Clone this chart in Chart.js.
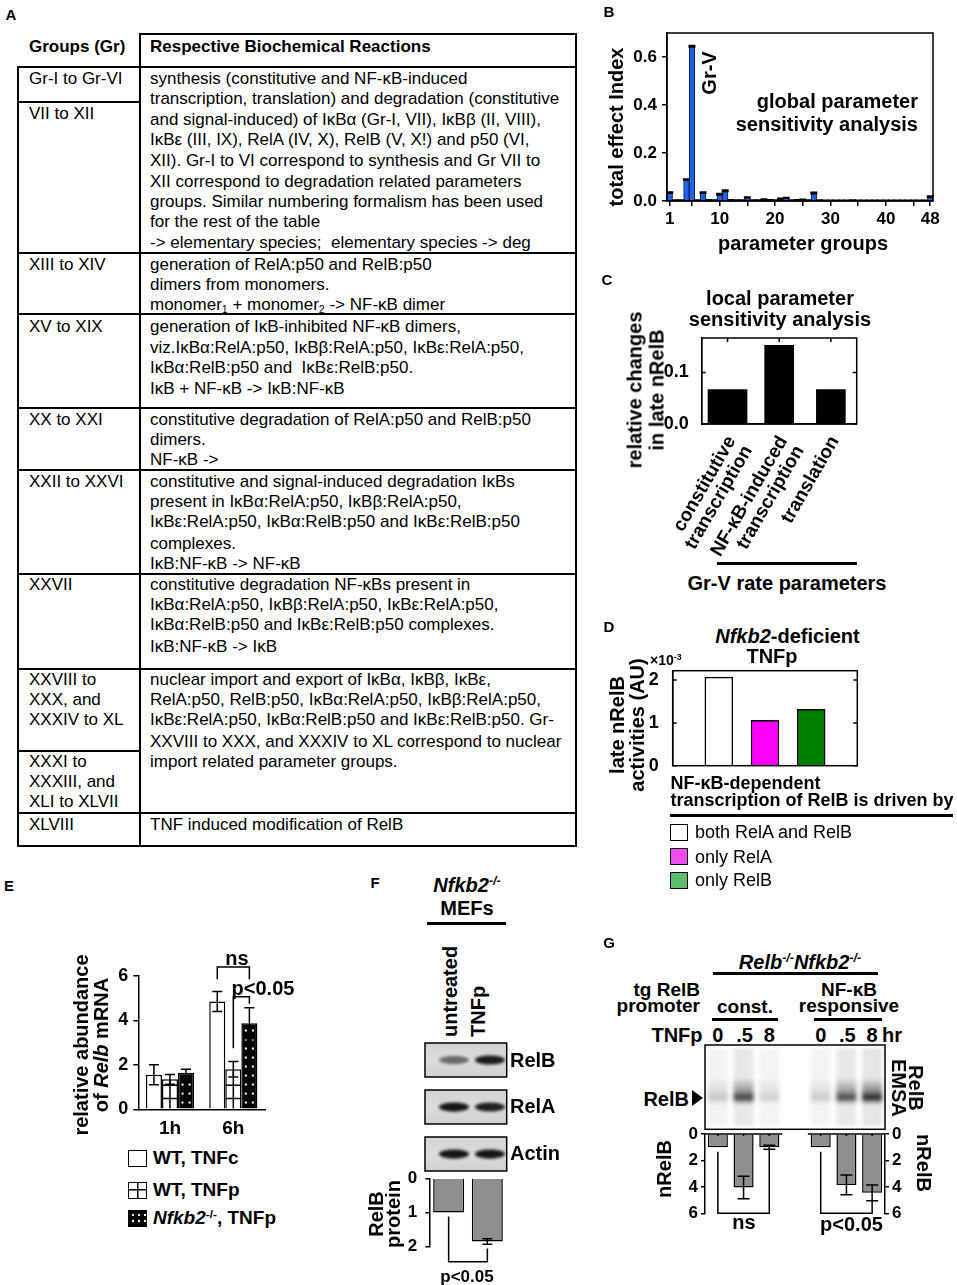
<!DOCTYPE html>
<html><head><meta charset="utf-8">
<script src="https://cdn.jsdelivr.net/npm/chart.js@4.4.1/dist/chart.umd.min.js"></script>
<style>
html,body{margin:0;padding:0;background:#fff;}
body{width:957px;height:1285px;position:relative;overflow:hidden;font-family:'Liberation Sans',Arial,Helvetica,sans-serif;color:#000;}
.t{position:absolute;white-space:nowrap;transform-origin:0 0;line-height:1.15;text-align:center;}
.ln{position:absolute;background:#000;}
.sw{position:absolute;box-sizing:border-box;border:1.5px solid #000;}
canvas{position:absolute;}
sup{font-size:0.62em;vertical-align:0.55em;line-height:0;}
sub{font-size:0.62em;vertical-align:-0.3em;line-height:0;}
</style></head><body>
<script>
// ---------------- DATA ----------------
// Panel B: global parameter sensitivity analysis
const paramGroups = [1,2,3,4,5,6,7,8,9,10,11,12,13,14,15,16,17,18,19,20,21,22,23,24,25,26,27,28,29,30,31,32,33,34,35,36,37,38,39,40,41,42,43,44,45,46,47,48];
const totalEffectIndex = [0.035,0.002,0.002,0.090,0.645,0.002,0.035,0.003,0.002,0.028,0.043,0.003,0.002,0.002,0.015,0.002,0.002,0.006,0.003,0.002,0.009,0.013,0.002,0.003,0.005,0.002,0.033,0.002,0.001,0.001,0.001,0.001,0.001,0.002,0.001,0.001,0.001,0.001,0.001,0.001,0.001,0.001,0.001,0.001,0.001,0.001,0.001,0.018];
const totalEffectErr = [0.003,0.002,0.002,0.002,0.003,0.002,0.003,0.002,0.002,0.003,0.003,0.002,0.002,0.002,0.002,0.002,0.002,0.002,0.002,0.002,0.002,0.002,0.002,0.002,0.002,0.002,0.003,0.002,0.002,0.002,0.002,0.002,0.002,0.002,0.002,0.002,0.002,0.002,0.002,0.002,0.002,0.002,0.002,0.002,0.002,0.002,0.002,0.003];
const bTickLabels = [1,10,20,30,40,48];
const bTickMarks = [1,5,10,15,20,25,30,35,40,45,48];
const bYTicks = [0,0.2,0.4,0.6];

// Panel C: local parameter sensitivity analysis (Gr-V rate parameters)
const grVParams = [['constitutive','transcription'],['NF-\u03baB-induced','transcription'],['translation']];
const relChangeLateNRelB = [0.067,0.153,0.067];

// Panel D: Nfkb2-deficient, TNFp
const drivenBy = ['both RelA and RelB','only RelA','only RelB'];
const lateNRelBActivity = [2.07,1.06,1.32];   // x10^-3 AU
const dBarColors = ['#ffffff','#ff00ff','#008000'];
const dLegendColors = ['#ffffff','#f04cf0','#5cbf6c'];

// Panel E: relative abundance of Relb mRNA
const eTimes = ['1h','6h'];
const eSeries = ['WT, TNFc','WT, TNFp','<i>Nfkb2</i><sup>-/-</sup>, TNFp'];
const relbWT_TNFc = [1.55,4.85];
const relbWT_TNFcErr = [0.45,0.45];
const relbWT_TNFp = [1.35,1.80];
const relbWT_TNFpErr = [0.22,0.35];
const relbNfkb2_TNFp = [1.65,3.87];
const relbNfkb2_TNFpErr = [0.15,0.70];

// Panel F: RelB protein (Nfkb2-/- MEFs)
const fConditions = ['untreated','TNFp'];
const relbProtein = [1.00,1.85];
const relbProteinErr = [0,0.08];
const blotRelB = [0.55,0.92];
const blotRelA = [0.95,0.90];
const blotActin = [0.95,0.95];

// Panel G: nRelB (EMSA quantification)
const gLanes = ['0','.5','8','','0','.5','8'];
const nRelB = [1.00,4.05,1.00,null,1.00,3.85,4.45];
const nRelBErr = [0,0.85,0.15,null,0,0.75,0.60];
const emsaBand = [0.22,0.85,0.18,null,0.20,0.80,0.97];

// ---------------- HELPERS ----------------
Chart.defaults.font.family = "'Liberation Sans', Arial, Helvetica, sans-serif";
Chart.defaults.color = '#000';
Chart.defaults.animation = false;
Chart.defaults.plugins.legend.display = false;
Chart.defaults.plugins.tooltip.enabled = false;

function T(html, x, y, o) {
  o = o || {};
  const d = document.createElement('div'); d.className = 't';
  d.innerHTML = html;
  d.style.left = x + 'px'; d.style.top = y + 'px';
  d.style.fontSize = (o.s || 20) + 'px';
  d.style.fontWeight = o.w || 'bold';
  if (o.lh) d.style.lineHeight = o.lh + 'px';
  if (o.ta) d.style.textAlign = o.ta;
  if (o.i) d.style.fontStyle = 'italic';
  const ax = o.a === 'l' ? '0' : (o.a === 'r' ? '-100%' : '-50%');
  d.style.transform = 'rotate(' + (o.r || 0) + 'deg) translate(' + ax + ',-50%)';
  document.body.appendChild(d);
  return d;
}
function LN(x, y, w, h) {
  const d = document.createElement('div'); d.className = 'ln';
  d.style.left = x + 'px'; d.style.top = y + 'px'; d.style.width = w + 'px'; d.style.height = h + 'px';
  document.body.appendChild(d);
}
function SW(x, y, w, h, bg) {
  const d = document.createElement('div'); d.className = 'sw';
  d.style.left = x + 'px'; d.style.top = y + 'px'; d.style.width = w + 'px'; d.style.height = h + 'px';
  d.style.background = bg;
  document.body.appendChild(d);
}
function mkCanvas(L, Tp, W, H) {
  const c = document.createElement('canvas');
  c.width = W; c.height = H;
  c.style.left = L + 'px'; c.style.top = Tp + 'px'; c.style.width = W + 'px'; c.style.height = H + 'px';
  document.body.appendChild(c);
  return c;
}
function fixW(w) { return s => { s.width = w; s.paddingTop = 0; s.paddingBottom = 0; }; }
function fixH(h) { return s => { s.height = h; s.paddingLeft = 0; s.paddingRight = 0; }; }

const framePlugin = {
  id: 'frame',
  afterDatasetsDraw(chart, args, o) {
    if (!o || !o.on) return;
    const ctx = chart.ctx, a = chart.chartArea, L = o.tl || 4;
    ctx.save(); ctx.strokeStyle = '#000'; ctx.lineWidth = o.lw || 1.5;
    ctx.strokeRect(a.left, a.top, a.right - a.left, a.bottom - a.top);
    ctx.beginPath();
    if (o.yTicks) {
      const ys = chart.scales.y;
      ys.ticks.forEach(t => { const p = ys.getPixelForValue(t.value);
        ctx.moveTo(a.left, p); ctx.lineTo(a.left + L, p); ctx.moveTo(a.right, p); ctx.lineTo(a.right - L, p); });
    }
    if (o.xTop) {
      const xs = chart.scales.x;
      xs.ticks.forEach((t, i) => { const p = xs.getPixelForTick(i);
        ctx.moveTo(p, a.top); ctx.lineTo(p, a.top + L); });
    }
    ctx.stroke(); ctx.restore();
  }
};
const hatchPlugin = {
  id: 'hatch',
  afterDatasetsDraw(chart, args, o) {
    if (!o) return;
    const ctx = chart.ctx;
    if (o.cross != null) {
      chart.getDatasetMeta(o.cross).data.forEach(bar => {
        const p = bar.getProps(['x', 'y', 'base', 'width'], true);
        ctx.save(); ctx.strokeStyle = '#000'; ctx.lineWidth = 1.5; ctx.beginPath();
        ctx.moveTo(p.x, p.y); ctx.lineTo(p.x, p.base);
        for (let yy = p.base - 10; yy > p.y + 3; yy -= 13.3) { ctx.moveTo(p.x - p.width / 2, yy); ctx.lineTo(p.x + p.width / 2, yy); }
        ctx.stroke(); ctx.restore();
      });
    }
    if (o.dots != null) {
      chart.getDatasetMeta(o.dots).data.forEach(bar => {
        const p = bar.getProps(['x', 'y', 'base', 'width'], true);
        ctx.save(); ctx.fillStyle = '#fff';
        for (let yy = p.base - 6; yy > p.y + 3; yy -= 9) {
          [-3.5, 3.5].forEach(dx => ctx.fillRect(p.x + dx - 1, yy - 1, 2, 2));
        }
        ctx.restore();
      });
    }
  }
};
const errPlugin = {
  id: 'errbars',
  afterDatasetsDraw(chart, args, o) {
    if (!o || !o.errs) return;
    const ctx = chart.ctx; ctx.save(); ctx.strokeStyle = '#000'; ctx.lineWidth = o.lw || 1.5;
    o.errs.forEach((errs, d) => {
      if (!errs) return;
      const meta = chart.getDatasetMeta(d), ys = chart.scales[meta.yAxisID];
      const data = chart.data.datasets[d].data, hw = (o.cap || 8) / 2;
      errs.forEach((e, i) => {
        if (!e || data[i] == null || !meta.data[i]) return;
        const x = meta.data[i].x, v = data[i];
        const y1 = ys.getPixelForValue(v + e), y2 = ys.getPixelForValue(Math.max(v - e, ys.min));
        ctx.beginPath();
        ctx.moveTo(x, y1); ctx.lineTo(x, y2);
        ctx.moveTo(x - hw, y1); ctx.lineTo(x + hw, y1);
        if (v - e > ys.min) { ctx.moveTo(x - hw, y2); ctx.lineTo(x + hw, y2); }
        ctx.stroke();
      });
    });
    ctx.restore();
  }
};
const bracketPlugin = {
  id: 'brackets',
  afterDatasetsDraw(chart, args, o) {
    if (!o || !o.list) return;
    const ctx = chart.ctx; ctx.save(); ctx.strokeStyle = '#000'; ctx.lineWidth = o.lw || 1.5;
    o.list.forEach(b => {
      const ma = chart.getDatasetMeta(b.a[0]), mb = chart.getDatasetMeta(b.b[0]);
      const ys = chart.scales[ma.yAxisID];
      const xa = ma.data[b.a[1]].x, xb = mb.data[b.b[1]].x, yl = ys.getPixelForValue(b.level);
      ctx.beginPath();
      ctx.moveTo(xa, ys.getPixelForValue(b.a[2])); ctx.lineTo(xa, yl); ctx.lineTo(xb, yl); ctx.lineTo(xb, ys.getPixelForValue(b.b[2]));
      ctx.stroke();
    });
    ctx.restore();
  }
};
const baselinePlugin = {
  id: 'baseline',
  afterDatasetsDraw(chart, args, o) {
    if (!o || !o.on) return;
    const ctx = chart.ctx, xs = chart.scales.x, ys = chart.scales.y, w = xs.width / xs.ticks.length;
    const data = chart.data.datasets[0].data, y0 = ys.getPixelForValue(0);
    ctx.save(); ctx.strokeStyle = '#000'; ctx.lineWidth = 1.5; ctx.beginPath();
    data.forEach((v, i) => { if (v == null) return; const c = xs.getPixelForTick(i);
      ctx.moveTo(c - w / 2, y0); ctx.lineTo(c + w / 2, y0);
      ctx.moveTo(c, y0); ctx.lineTo(c, y0 + 2); });
    ctx.stroke(); ctx.restore();
  }
};
const boldFont = s => ({ size: s, weight: 'bold' });

// ---------------- PANEL A (table) ----------------
T('A', 11, 15, { s: 15 });
T('Groups (Gr)', 29, 47, { s: 17, a: 'l' });
T('Respective Biochemical Reactions', 150, 47, { s: 17, a: 'l' });
LN(139, 32.5, 438, 2); LN(17, 65.5, 560, 2);
LN(138.5, 32.5, 2, 814); LN(575, 32.5, 2, 814); LN(17, 65.5, 2, 781);
LN(17, 845, 560, 2);
[252, 313, 407, 468.5, 572.5, 667.5, 812].forEach(y => LN(17, y, 560, 2));
LN(17, 100.5, 122, 2); LN(17, 750, 122, 2);
const leftCol = [[79,'Gr-I to Gr-VI'],[114,'VII to XII'],[265,'XIII to XIV'],[327,'XV to XIX'],[420,'XX to XXI'],[482,'XXII to XXVI'],[585,'XXVII'],[680,'XXVIII to'],[700,'XXX, and'],[720,'XXXIV to XL'],[762,'XXXI to'],[782,'XXXIII, and'],[802,'XLI to XLVII'],[825,'XLVIII']];
leftCol.forEach(r => T(r[1], 29, r[0], { s: 17, w: 'normal', a: 'l' }));
const k = '\u03ba', al = '\u03b1', be = '\u03b2', ep = '\u03b5';
const rightCol = [
 [79,'synthesis (constitutive and NF-'+k+'B-induced'],
 [99,'transcription, translation) and degradation (constitutive'],
 [119.5,'and signal-induced) of I'+k+'B'+al+' (Gr-I, VII), I'+k+'B'+be+' (II, VIII),'],
 [140,'I'+k+'B'+ep+' (III, IX), RelA (IV, X), RelB (V, X!) and p50 (VI,'],
 [160.5,'XII). Gr-I to VI correspond to synthesis and Gr VII to'],
 [181.5,'XII correspond to degradation related parameters'],
 [202,'groups. Similar numbering formalism has been used'],
 [222,'for the rest of the table'],
 [243,'-&gt; elementary species;&nbsp; elementary species -&gt; deg'],
 [265,'generation of RelA:p50 and RelB:p50'],
 [285,'dimers from monomers.'],
 [305,'monomer<sub>1</sub> + monomer<sub>2</sub> -&gt; NF-'+k+'B dimer'],
 [327,'generation of I'+k+'B-inhibited NF-'+k+'B dimers,'],
 [347.5,'viz.I'+k+'B'+al+':RelA:p50, I'+k+'B'+be+':RelA:p50, I'+k+'B'+ep+':RelA:p50,'],
 [368,'I'+k+'B'+al+':RelB:p50 and&nbsp; I'+k+'B'+ep+':RelB:p50.'],
 [388.5,'I'+k+'B + NF-'+k+'B -&gt; I'+k+'B:NF-'+k+'B'],
 [420,'constitutive degradation of RelA:p50 and RelB:p50'],
 [440,'dimers.'],
 [460,'NF-'+k+'B -&gt;'],
 [482,'constitutive and signal-induced degradation I'+k+'Bs'],
 [502,'present in I'+k+'B'+al+':RelA:p50, I'+k+'B'+be+':RelA:p50,'],
 [522,'I'+k+'B'+ep+':RelA:p50, I'+k+'B'+al+':RelB:p50 and I'+k+'B'+ep+':RelB:p50'],
 [543.5,'complexes.'],
 [563.5,'I'+k+'B:NF-'+k+'B -&gt; NF-'+k+'B'],
 [585,'constitutive degradation NF-'+k+'Bs present in'],
 [605,'I'+k+'B'+al+':RelA:p50, I'+k+'B'+be+':RelA:p50, I'+k+'B'+ep+':RelA:p50,'],
 [625,'I'+k+'B'+al+':RelB:p50 and I'+k+'B'+ep+':RelB:p50 complexes.'],
 [647,'I'+k+'B:NF-'+k+'B -&gt; I'+k+'B'],
 [680,'nuclear import and export of I'+k+'B'+al+', I'+k+'B'+be+', I'+k+'B'+ep+','],
 [700,'RelA:p50, RelB:p50, I'+k+'B'+al+':RelA:p50, I'+k+'B'+be+':RelA:p50,'],
 [720,'I'+k+'B'+ep+':RelA:p50, I'+k+'B'+al+':RelB:p50 and I'+k+'B'+ep+':RelB:p50. Gr-'],
 [742,'XXVIII to XXX, and XXXIV to XL correspond to nuclear'],
 [762,'import related parameter groups.'],
 [825,'TNF induced modification of RelB']
];
rightCol.forEach(r => T(r[1], 150, r[0], { s: 17, w: 'normal', a: 'l' }));

// ---------------- PANEL B ----------------
T('B', 609, 12, { s: 15 });
new Chart(mkCanvas(600, 20, 357, 240), {
  type: 'bar',
  data: { labels: paramGroups, datasets: [{ data: totalEffectIndex, backgroundColor: '#1f62e8', borderColor: '#0a1c5c', borderWidth: 1, barPercentage: 1, categoryPercentage: 1 }] },
  options: {
    responsive: false, devicePixelRatio: 1,
    layout: { padding: { left: 0, top: 13, right: 24, bottom: 0 } },
    scales: {
      x: { grid: { drawOnChartArea: false, offset: false, tickLength: 5, lineWidth: 1.5, color: c => bTickMarks.includes(paramGroups[c.index]) ? '#000' : 'rgba(0,0,0,0)' },
           border: { display: true, color: '#000', width: 1.5 },
           ticks: { autoSkip: false, maxRotation: 0, minRotation: 0, padding: 3, font: boldFont(17), callback: (v, i) => bTickLabels.includes(paramGroups[i]) ? String(paramGroups[i]) : '' },
           afterFit: fixH(59) },
      y: { min: 0, max: 0.7, afterBuildTicks: s => { s.ticks = bYTicks.map(v => ({ value: v })); },
           ticks: { padding: 5, font: boldFont(17), callback: v => Number(v).toFixed(1) },
           grid: { drawOnChartArea: false, tickLength: 5, lineWidth: 1.5, color: '#000' },
           border: { display: true, color: '#000', width: 1.5 }, afterFit: fixW(67) }
    },
    plugins: { frame: { on: true }, errbars: { errs: [totalEffectErr], cap: 7, lw: 1.5 } }
  },
  plugins: [framePlugin, errPlugin]
});
T('total effect Index', 616, 127, { r: -90 });
T('parameter groups', 803, 243);
T('global parameter<br>sensitivity analysis', 918, 113, { a: 'r', ta: 'right', lh: 23 });
T('Gr-V', 709, 73, { r: -90 });

// ---------------- PANEL C ----------------
T('C', 607, 280, { s: 15 });
new Chart(mkCanvas(600, 330, 357, 230), {
  type: 'bar',
  data: { labels: grVParams, datasets: [
    { data: relChangeLateNRelB.map((v, i) => i === 0 ? v : null), backgroundColor: '#000', borderColor: '#000', borderWidth: 0, barThickness: 39, grouped: false },
    { data: relChangeLateNRelB.map((v, i) => i > 0 ? v : null), backgroundColor: '#000', borderColor: '#000', borderWidth: 0, barThickness: 29, grouped: false }
  ] },
  options: {
    responsive: false, devicePixelRatio: 1,
    layout: { padding: { left: 0, top: 8, right: 100.3, bottom: 0 } },
    scales: {
      x: { grid: { display: false }, border: { display: true, color: '#000', width: 1.5 },
           ticks: { autoSkip: false, maxRotation: 60, minRotation: 60, padding: 1, labelOffset: 4, font: { size: 19, weight: 'bold', lineHeight: 1.0 } },
           afterFit: fixH(136) },
      y: { min: 0, max: 0.167, afterBuildTicks: s => { s.ticks = [0, 0.1].map(v => ({ value: v })); },
           ticks: { padding: 5, font: boldFont(18), callback: v => Number(v).toFixed(1) },
           grid: { display: false }, border: { display: true, color: '#000', width: 1.5 }, afterFit: fixW(101.7) }
    },
    plugins: { frame: { on: true, yTicks: true, xTop: true } }
  },
  plugins: [framePlugin]
});
T('local parameter<br>sensitivity analysis', 780, 309, { lh: 21 });
T('relative changes<br>in late nRelB', 646, 390, { r: -90, lh: 21.5 });
LN(717, 562, 140, 3);
T('Gr-V rate parameters', 787, 583);

// ---------------- PANEL D ----------------
T('D', 609, 627, { s: 15 });
new Chart(mkCanvas(600, 660, 357, 120), {
  type: 'bar',
  data: { labels: [''].concat(drivenBy, ['']), datasets: [{ data: [null].concat(lateNRelBActivity, [null]), backgroundColor: ['#fff'].concat(dBarColors, ['#fff']), borderColor: '#000', borderWidth: 1.5, barThickness: 28 }] },
  options: {
    responsive: false, devicePixelRatio: 1,
    layout: { padding: { left: 0, top: 10.7, right: 99.7, bottom: 14.3 } },
    scales: {
      x: { display: false, offset: false },
      y: { min: 0, max: 2.22, afterBuildTicks: s => { s.ticks = [0, 1, 2].map(v => ({ value: v })); },
           ticks: { padding: 6, font: boldFont(18) }, grid: { display: false },
           border: { display: true, color: '#000', width: 1.5 }, afterFit: fixW(72.7) }
    },
    plugins: { frame: { on: true, yTicks: true } }
  },
  plugins: [framePlugin]
});
T('<i>Nfkb2</i>-deficient', 787.5, 636, { s: 20 });
T('TNFp', 772, 655.5, { s: 20 });
T('\u00d710<sup>-3</sup>', 650, 660, { a: 'l', s: 14 });
T('late nRelB<br>activities (AU)', 627, 725, { r: -90, lh: 20 });
T('NF-\u03baB-dependent<br>transcription of RelB is driven by', 670.5, 792, { a: 'l', ta: 'left', lh: 17, s: 18 });
LN(670, 813.5, 283, 3);
const dRowsY = [832, 856.5, 880];
drivenBy.forEach((lab, i) => { SW(670, dRowsY[i] - 8.5, 17.5, 17, dLegendColors[i]); T(lab, 695, dRowsY[i], { a: 'l', s: 18, w: 'normal' }); });

// ---------------- PANEL E ----------------
T('E', 9, 886, { s: 15 });
new Chart(mkCanvas(0, 950, 300, 195), {
  type: 'bar',
  data: { labels: eTimes, datasets: [
    { data: relbWT_TNFc, backgroundColor: '#fff', borderColor: '#000', borderWidth: 1.5, categoryPercentage: 0.76, barPercentage: 1 },
    { data: relbWT_TNFp, backgroundColor: '#fff', borderColor: '#000', borderWidth: 1.5, categoryPercentage: 0.76, barPercentage: 1 },
    { data: relbNfkb2_TNFp, backgroundColor: '#000', borderColor: '#000', borderWidth: 1.5, categoryPercentage: 0.76, barPercentage: 1 }
  ] },
  options: {
    responsive: false, devicePixelRatio: 1,
    layout: { padding: { left: 0, top: 26, right: 35, bottom: 0 } },
    scales: {
      x: { grid: { display: false }, border: { display: true, color: '#000', width: 1.5 },
           ticks: { padding: 0, font: boldFont(19) }, afterFit: fixH(35.7) },
      y: { min: 0, max: 6, afterBuildTicks: s => { s.ticks = [0, 2, 4, 6].map(v => ({ value: v })); },
           ticks: { padding: 5, font: boldFont(18) },
           grid: { drawOnChartArea: false, tickLength: 5, lineWidth: 1.5, color: '#000' },
           border: { display: true, color: '#000', width: 1.5 }, afterFit: fixW(138.3) }
    },
    plugins: {
      hatch: { cross: 1, dots: 2 },
      errbars: { errs: [relbWT_TNFcErr, relbWT_TNFpErr, relbNfkb2_TNFpErr], cap: 10 },
      brackets: { list: [ { a: [0, 1, 5.85], b: [2, 1, 5.85], level: 6.4 }, { a: [1, 1, 2.75], b: [2, 1, 4.75], level: 5.07 } ] }
    }
  },
  plugins: [hatchPlugin, errPlugin, bracketPlugin]
});
T('relative abundance<br>of <i>Relb</i> mRNA', 91, 1045, { r: -90, lh: 19.5 });
T('ns', 237, 958);
T('p&lt;0.05', 263, 988);
const eRowsY = [1158, 1190, 1218];
SW(128, eRowsY[0] - 8.5, 19, 17, '#fff');
SW(128, eRowsY[1] - 8.5, 19, 17, 'linear-gradient(#000,#000) center/1.5px 100% no-repeat, linear-gradient(#000,#000) center/100% 1.5px no-repeat, #fff');
SW(128, eRowsY[2] - 8.5, 19, 17, 'radial-gradient(circle, #fff 0.9px, rgba(255,255,255,0) 1.3px) 1px 1px/6px 6px, #000');
eSeries.forEach((lab, i) => T(lab, 153, eRowsY[i], { a: 'l', s: 19 }));

// ---------------- PANEL F ----------------
T('F', 375, 883, { s: 15 });
T('<i>Nfkb2<sup>-/-</sup></i>', 467, 885);
T('MEFs', 467, 907.5);
LN(427, 921.5, 79, 3);
T(fConditions[0], 450, 1036.5, { r: -90, a: 'l' });
T(fConditions[1], 478, 1036.5, { r: -90, a: 'l' });
(function () {
  const c = mkCanvas(420, 1038, 95, 140), ctx = c.getContext('2d');
  const boxes = [[5, blotRelB], [52, blotRelA], [99, blotActin]];
  const lanesX = [29, 65];
  boxes.forEach(([y0, inten]) => {
    const g = ctx.createLinearGradient(0, y0, 0, y0 + 34);
    g.addColorStop(0, '#d2d2d2'); g.addColorStop(0.5, '#dcdcdc'); g.addColorStop(1, '#d0d0d0');
    ctx.fillStyle = g; ctx.fillRect(5, y0, 81.7, 34);
    ctx.save(); ctx.filter = 'blur(1.6px)';
    inten.forEach((v, i) => {
      ctx.fillStyle = 'rgba(10,10,10,' + v + ')';
      ctx.beginPath(); ctx.ellipse(5 + lanesX[i], y0 + 17, 15, 3.2 + v * 1.5, 0, 0, Math.PI * 2); ctx.fill();
    });
    ctx.restore();
    ctx.strokeStyle = '#000'; ctx.lineWidth = 1.5; ctx.strokeRect(5, y0, 81.7, 34);
  });
})();
T('RelB', 510, 1060, { a: 'l' });
T('RelA', 510, 1106, { a: 'l' });
T('Actin', 510, 1153, { a: 'l' });
new Chart(mkCanvas(395, 1170, 115, 95), {
  type: 'bar',
  data: { labels: fConditions, datasets: [{ data: relbProtein, backgroundColor: '#8e8e8e', borderColor: '#000', borderWidth: 1.5, barPercentage: 0.8, categoryPercentage: 1 }] },
  options: {
    responsive: false, devicePixelRatio: 1,
    layout: { padding: { left: 0, top: 8.3, right: 3.3, bottom: 18.3 } },
    scales: {
      x: { display: false },
      y: { reverse: true, min: 0, max: 2, afterBuildTicks: s => { s.ticks = [0, 1, 2].map(v => ({ value: v })); },
           ticks: { padding: 8, font: boldFont(17) },
           grid: { drawOnChartArea: false, tickLength: 4, lineWidth: 1.5, color: '#000' },
           border: { display: true, color: '#000', width: 1.5 }, afterFit: fixW(34.3) }
    },
    plugins: {
      errbars: { errs: [relbProteinErr], cap: 10 },
      brackets: { list: [ { a: [0, 0, 1.12], b: [0, 1, 2.05], level: 2.44 } ] }
    }
  },
  plugins: [errPlugin, bracketPlugin]
});
T('RelB<br>protein', 385, 1214, { r: -90, lh: 17 });
T('p&lt;0.05', 467, 1276.5, { s: 17 });

// ---------------- PANEL G ----------------
T('G', 609, 943, { s: 15 });
T('<i>Relb<sup>-/-</sup>Nfkb2<sup>-/-</sup></i>', 800, 961.5);
LN(713, 972, 165, 3);
T('tg RelB<br>promoter', 700, 998, { a: 'r', ta: 'right', lh: 16, s: 19 });
T('const.', 745, 1007, { s: 19 });
LN(712, 1018, 66, 3);
T('NF-\u03baB<br>responsive', 849, 998, { lh: 16, s: 19 });
LN(814, 1018, 68, 3);
T('TNFp', 677, 1035);
const laneX = [717.9, 743.6, 769.3, 795, 820.7, 846.4, 872.1];
gLanes.forEach((l, i) => { if (l) T(l, laneX[i] + (l === '.5' ? 1 : 0), 1035); });
T('hr', 892, 1035);
(function () {
  const c = mkCanvas(700, 1040, 190, 95), ctx = c.getContext('2d');
  ctx.fillStyle = '#fff'; ctx.fillRect(5, 5, 180, 84.3);
  ctx.save(); ctx.filter = 'blur(2px)';
  emsaBand.forEach((v, i) => {
    if (v == null) return;
    const cx = laneX[i] - 700;
    ctx.fillStyle = 'rgba(0,0,0,' + (0.03 + v * 0.07) + ')';
    ctx.fillRect(cx - 10, 8, 20, 78);
    const g = ctx.createLinearGradient(0, 38, 0, 64);
    g.addColorStop(0, 'rgba(0,0,0,0)');
    g.addColorStop(0.55, 'rgba(0,0,0,' + (v * 0.45) + ')');
    g.addColorStop(0.75, 'rgba(0,0,0,' + (v * 0.95) + ')');
    g.addColorStop(1, 'rgba(0,0,0,0)');
    ctx.fillStyle = g; ctx.fillRect(cx - 10, 38, 20, 26);
  });
  ctx.restore();
  ctx.strokeStyle = '#000'; ctx.lineWidth = 1.5; ctx.strokeRect(5, 5, 180, 84.3);
})();
T('RelB', 689, 1099, { a: 'r' });
(function () { const d = document.createElement('div'); d.style.cssText = 'position:absolute;left:692px;top:1090px;width:0;height:0;border-top:8.5px solid transparent;border-bottom:8.5px solid transparent;border-left:11px solid #000;'; document.body.appendChild(d); })();
T('RelB<br>EMSA', 907, 1088, { r: 90, lh: 17 });
new Chart(mkCanvas(600, 1126, 357, 112), {
  type: 'bar',
  data: { labels: gLanes, datasets: [{ data: nRelB, backgroundColor: '#8e8e8e', borderColor: '#000', borderWidth: 1.5, barPercentage: 0.78, categoryPercentage: 1 }] },
  options: {
    responsive: false, devicePixelRatio: 1,
    layout: { padding: { left: 0, top: 8, right: 0, bottom: 24.7 } },
    scales: {
      x: { display: false },
      y: { reverse: true, min: 0, max: 6, afterBuildTicks: s => { s.ticks = [0, 2, 4, 6].map(v => ({ value: v })); },
           ticks: { padding: 3, font: boldFont(17) },
           grid: { drawOnChartArea: false, tickLength: 4, lineWidth: 1.5, color: '#000' },
           border: { display: true, color: '#000', width: 1.5 }, afterFit: fixW(105) },
      y2: { position: 'right', reverse: true, min: 0, max: 6, afterBuildTicks: s => { s.ticks = [0, 2, 4, 6].map(v => ({ value: v })); },
           ticks: { padding: 3, font: boldFont(17) },
           grid: { drawOnChartArea: false, tickLength: 4, lineWidth: 1.5, color: '#000' },
           border: { display: true, color: '#000', width: 1.5 }, afterFit: fixW(72) }
    },
    plugins: {
      baseline: { on: true },
      errbars: { errs: [nRelBErr], cap: 12 },
      brackets: { list: [ { a: [0, 0, 1.34], b: [0, 2, 1.2], level: 6 }, { a: [0, 4, 1.34], b: [0, 6, 5.05], level: 6 } ] }
    }
  },
  plugins: [baselinePlugin, errPlugin, bracketPlugin]
});
T('nRelB', 664, 1169, { r: -90 });
T('nRelB', 922.5, 1163, { r: 90 });
T('ns', 744, 1221.5);
T('p&lt;0.05', 851.5, 1224);
</script>
</body></html>
